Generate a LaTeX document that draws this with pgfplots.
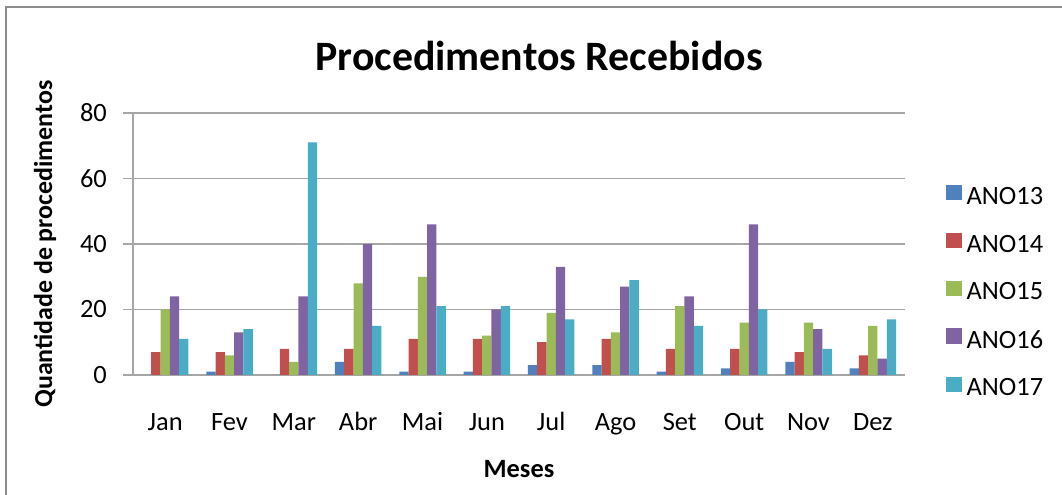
\documentclass[border=0pt]{standalone}
\usepackage{fontspec}
\setmainfont{Carlito}
\usepackage{pgfplots}
\pgfplotsset{compat=1.18}
\definecolor{cA}{HTML}{4F81BD}
\definecolor{cB}{HTML}{C0504D}
\definecolor{cC}{HTML}{9BBB59}
\definecolor{cD}{HTML}{8064A2}
\definecolor{cE}{HTML}{4BACC6}
\definecolor{gridc}{HTML}{A6A6A6}
\definecolor{framec}{HTML}{8C8C8C}
\begin{document}
\begin{tikzpicture}
\useasboundingbox (0,0) rectangle (1062bp,495bp);
\draw[framec, line width=2.5bp] (6bp,0) -- (6bp,488bp) -- (1062bp,488bp);
\begin{axis}[
  at={(133bp,120bp)}, anchor=south west,
  scale only axis, width=772bp, height=262bp,
  xmin=-0.5, xmax=11.5, ymin=0, ymax=80,
  axis x line=bottom, axis y line=left,
  axis line style={-, draw=gridc, line width=1.3bp},
  ytick={0,20,40,60,80},
  ymajorgrids, grid style={draw=gridc, line width=1.2bp},
  major tick length=10bp, tick align=outside,
  ytick style={draw=gridc, line width=1.2bp},
  xtick={0,...,11},
  xticklabels={Jan,Fev,Mar,Abr,Mai,Jun,Jul,Ago,Set,Out,Nov,Dez},
  xtick style={draw=none},
  /pgf/number format/assume math mode=true,
  tick label style={font=\fontsize{26.5}{30}\selectfont, text=black},
  xticklabel style={anchor=base, inner sep=0pt, yshift=-45bp},
  yticklabel style={anchor=east, inner sep=0pt, xshift=-16bp},
  title={Procedimentos Recebidos},
  title style={font=\bfseries\fontsize{42}{48}\selectfont, at={(axis description cs:0.526,1.141)}, anchor=base, inner sep=0pt},
  xlabel={Meses},
  xlabel style={font=\bfseries\fontsize{26.5}{30}\selectfont, at={(axis description cs:0.5,-0.391)}, anchor=base, inner sep=0pt},
  ylabel={Quantidade de procedimentos},
  ylabel style={font=\bfseries\fontsize{26}{30}\selectfont, at={(axis description cs:-0.1049,0.5)}, anchor=base, inner sep=0pt},
  ybar=0pt, bar width=9.3bp,
  legend style={at={(axis description cs:1.053,0.32)}, anchor=west, draw=none, fill=none, inner sep=0pt,
    font=\fontsize{26.5}{30}\selectfont, row sep=27bp, column sep=5bp, nodes={inner sep=0pt}},
  legend cell align=left,
  legend image code/.code={\fill[#1] (0bp,-4bp) rectangle (15.5bp,11.5bp);},
]
\addplot[fill=cA, draw=none] coordinates {(0,0) (1,1) (2,0) (3,4) (4,1) (5,1) (6,3) (7,3) (8,1) (9,2) (10,4) (11,2)};
\addplot[fill=cB, draw=none] coordinates {(0,7) (1,7) (2,8) (3,8) (4,11) (5,11) (6,10) (7,11) (8,8) (9,8) (10,7) (11,6)};
\addplot[fill=cC, draw=none] coordinates {(0,20) (1,6) (2,4) (3,28) (4,30) (5,12) (6,19) (7,13) (8,21) (9,16) (10,16) (11,15)};
\addplot[fill=cD, draw=none] coordinates {(0,24) (1,13) (2,24) (3,40) (4,46) (5,20) (6,33) (7,27) (8,24) (9,46) (10,14) (11,5)};
\addplot[fill=cE, draw=none] coordinates {(0,11) (1,14) (2,71) (3,15) (4,21) (5,21) (6,17) (7,29) (8,15) (9,20) (10,8) (11,17)};
\legend{ANO13,ANO14,ANO15,ANO16,ANO17}
\end{axis}
\end{tikzpicture}
\end{document}
